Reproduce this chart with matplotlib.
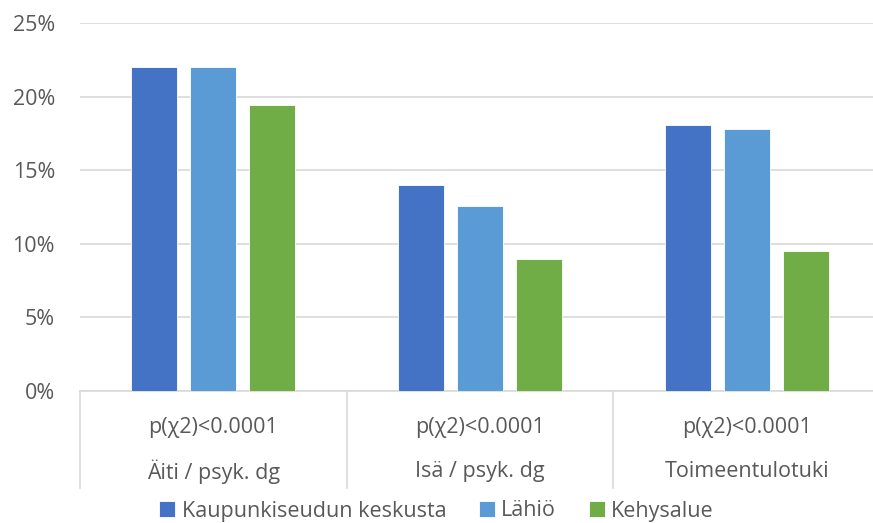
import matplotlib.pyplot as plt
import matplotlib.transforms as mtransforms

plt.rcParams['font.family'] = ['Open Sans', 'DejaVu Sans']

# data
groups = ["Äiti / psyk. dg", "Isä / psyk. dg", "Toimeentulotuki"]
pvals = ["p(χ2)<0.0001", "p(χ2)<0.0001", "p(χ2)<0.0001"]
series = ["Kaupunkiseudun keskusta", "Lähiö", "Kehysalue"]
keskusta = [22.0, 14.0, 18.1]
lahio = [22.0, 12.6, 17.8]
kehys = [19.4, 9.0, 9.5]
yticks = [0, 5, 10, 15, 20, 25]

colors = ["#4472C4", "#5B9BD5", "#70AD47"]
txt = "#595959"
fs = 15.5

fig = plt.figure(figsize=(8.73, 5.23), dpi=100)
ax = fig.add_axes([80/873, 132/523, 800/873, 368/523])

w = 0.1725
step = 0.221
x = list(range(len(groups)))
for i, (vals, name) in enumerate(zip([keskusta, lahio, kehys], series)):
    ax.bar([xi + (i - 1) * step for xi in x], vals, width=w, color=colors[i],
           edgecolor="white", linewidth=0.6, label=name, zorder=3)

ax.set_xlim(-0.5, 2.5)
ax.set_ylim(0, 25)
ax.set_yticks(yticks)
ax.set_yticklabels([f"{t}%" for t in yticks], fontsize=fs, color=txt)
ax.tick_params(axis="y", length=0, pad=18)
ax.set_xticks([])
ax.grid(axis="y", color="#D9D9D9", linewidth=1.2, zorder=0)
for s in ["top", "right", "left"]:
    ax.spines[s].set_visible(False)
ax.spines["bottom"].set_color("#D9D9D9")
ax.spines["bottom"].set_linewidth(1.2)

# two-level category labels
trans = mtransforms.blended_transform_factory(ax.transData, ax.transAxes)
for xi, g, p in zip(x, groups, pvals):
    ax.text(xi, -0.098, p, transform=trans, ha="center", va="center",
            fontsize=fs, color=txt)
    ax.text(xi, -0.220, g, transform=trans, ha="center", va="center",
            fontsize=fs, color=txt)
for xb in [-0.5, 0.5, 1.5, 2.5]:
    ax.plot([xb, xb], [0, -0.264], transform=trans, color="#D9D9D9",
            linewidth=1.2, clip_on=False)

fig.legend(loc="center", bbox_to_anchor=(0.5, 12/523), ncol=3, frameon=False,
           fontsize=fs, labelcolor=txt, handlelength=0.75, handleheight=0.75,
           handletextpad=0.3, columnspacing=1.5)

fig.savefig("out.png", dpi=100)
